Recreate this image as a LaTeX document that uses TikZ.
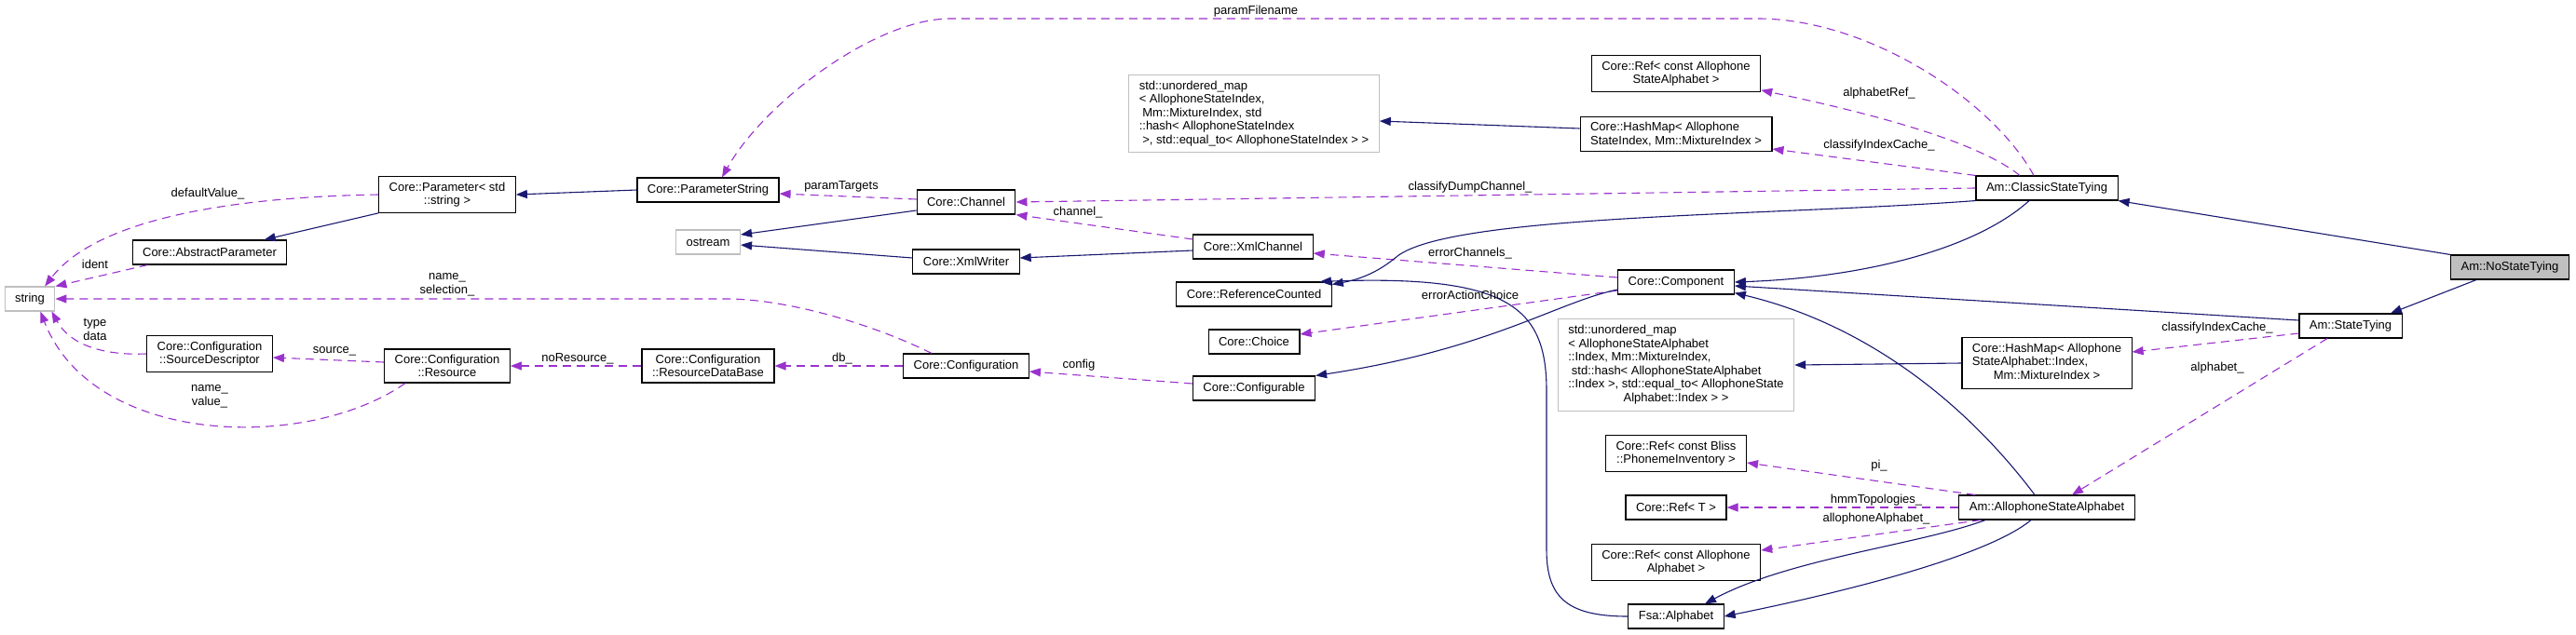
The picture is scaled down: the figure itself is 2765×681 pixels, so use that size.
\documentclass[tikz,border=0pt]{standalone}
\usepackage{fontspec}
\setmainfont{Liberation Sans}
\usetikzlibrary{arrows.meta}
\definecolor{inhcol}{HTML}{191970}
\definecolor{refcol}{HTML}{9A32CD}
\definecolor{extcol}{HTML}{BFBFBF}

\begin{document}
\begin{tikzpicture}[x=1pt, y=-1pt, font=\fontsize{13}{14.5}\selectfont,
  >={Triangle[length=12pt,width=9pt]},
  cls/.style={draw=black, line width=1.1pt, fill=white, inner xsep=11pt, inner ysep=6pt, minimum height=26pt},
  ext/.style={cls, draw=extcol},
  inherit/.style={->, draw=inhcol, line width=1.1pt},
  member/.style={->, draw=refcol, line width=1.1pt, dash pattern=on 9pt off 6pt},
  lbl/.style={inner sep=0pt, align=center}]
\path[use as bounding box, fill=white] (0,0) rectangle (2765,681);

\node[ext] (str) at (32,321) {string};
\node[cls, align=center] (param) at (480,209) {Core::Parameter< std\\::string >};
\node[cls] (absparam) at (225,271) {Core::AbstractParameter};
\node[cls, align=center] (srcdesc) at (225,380) {Core::Configuration\\::SourceDescriptor};
\node[cls, align=center] (resource) at (480,393) {Core::Configuration\\::Resource};
\node[cls, align=center] (resdb) at (760,393) {Core::Configuration\\::ResourceDataBase};
\node[cls] (paramstr) at (760,204) {Core::ParameterString};
\node[ext] (ostream) at (760,260) {ostream};
\node[cls] (channel) at (1037,217) {Core::Channel};
\node[cls] (xmlwriter) at (1037,281) {Core::XmlWriter};
\node[cls] (config) at (1037,393) {Core::Configuration};
\node[ext, align=left] (umapA) at (1346,122) {std::unordered\_map\\< AllophoneStateIndex,\\~Mm::MixtureIndex, std\\::hash< AllophoneStateIndex\\~>, std::equal\_to< AllophoneStateIndex > >};
\node[cls] (xmlchannel) at (1345,265) {Core::XmlChannel};
\node[cls] (refcnt) at (1346,316) {Core::ReferenceCounted};
\node[cls] (choice) at (1346,367) {Core::Choice};
\node[cls] (configurable) at (1346,417) {Core::Configurable};
\node[cls] (component) at (1799,303) {Core::Component};
\node[cls, align=center] (refasa) at (1799,79) {Core::Ref< const Allophone\\StateAlphabet >};
\node[cls, align=left] (hashA) at (1799,144) {Core::HashMap< Allophone\\StateIndex, Mm::MixtureIndex >};
\node[ext] (umapB) at (1799,392) {\begin{tabular}{@{}l@{}}std::unordered\_map\\< AllophoneStateAlphabet\\::Index, Mm::MixtureIndex,\\~std::hash< AllophoneStateAlphabet\\::Index >, std::equal\_to< AllophoneState\\\multicolumn{1}{@{}c@{}}{Alphabet::Index > >}\end{tabular}};
\node[cls, align=center] (refbliss) at (1799,487) {Core::Ref< const Bliss\\::PhonemeInventory >};
\node[cls] (reft) at (1799,545) {Core::Ref< T >};
\node[cls, align=center] (refalph) at (1799,604) {Core::Ref< const Allophone\\Alphabet >};
\node[cls] (fsa) at (1799,662) {Fsa::Alphabet};
\node[cls] (classic) at (2197,202) {Am::ClassicStateTying};
\node[cls, fill=extcol] (nostate) at (2694,287) {Am::NoStateTying};
\node[cls] (statetying) at (2523,350) {Am::StateTying};
\node[cls] (hashB) at (2197,390) {\begin{tabular}{@{}l@{}}Core::HashMap< Allophone\\StateAlphabet::Index,\\\multicolumn{1}{@{}c@{}}{Mm::MixtureIndex >}\end{tabular}};
\node[cls] (asa) at (2197,545) {Am::AllophoneStateAlphabet};

\draw[inherit] (paramstr.west) -- (param.east);
\draw[inherit] (param.south west) -- (absparam.13);
\draw[member] (param.west) .. controls (230,212) and (100,240) .. (str.40);
\draw[member] ([xshift=17pt]absparam.south west) -- (str.north east);
\draw[member] ([xshift=-37pt]config.north) .. controls (930,345) and (840,321) .. (780,321) -- (str.east);
\draw[member] (srcdesc.west) .. controls (110,382) and (75,370) .. (str.-30);
\draw[member] ([xshift=-45pt]resource.south) .. controls (330,485) and (100,480) .. (str.-50);
\draw[member] ([yshift=4pt]resource.west) -- ([yshift=-4pt]srcdesc.east);
\draw[member] (resdb.west) -- (resource.east);
\draw[member] (config.west) -- (resdb.east);
\draw[member] ([yshift=5pt]configurable.west) -- ([yshift=-6pt]config.east);
\draw[inherit] ([yshift=-9pt]channel.west) -- ([yshift=8pt]ostream.east);
\draw[inherit] ([yshift=4pt]xmlwriter.west) -- ([yshift=-3pt]ostream.east);
\draw[member] ([yshift=3pt]channel.west) -- ([yshift=-4pt]paramstr.east);
\draw[member] ([xshift=-14pt]classic.north) .. controls (2140,110) and (2010,22) .. (1890,20) -- (1020,20) .. controls (940,20) and (820,110) .. ([xshift=15pt]paramstr.north);
\draw[inherit] ([yshift=-4pt]xmlchannel.west) -- ([yshift=4pt]xmlwriter.east);
\draw[member] ([yshift=8pt]xmlchannel.west) -- (channel.south east);
\draw[member] (classic.west) -- (channel.east);
\draw[member] ([yshift=5pt]component.west) -- ([yshift=-7pt]xmlchannel.east);
\draw[member] ([yshift=-9pt]component.west) -- ([yshift=8pt]choice.east);
\draw[inherit] ([yshift=-8pt]component.west) .. controls (1670,325) and (1600,375) .. (configurable.north east);
\draw[inherit] (classic.south west) .. controls (1900,232) and (1560,230) .. (1500,275) .. controls (1480,292) and (1460,300) .. ([yshift=-3pt]refcnt.north east);
\draw[inherit] (fsa.west) .. controls (1680,662) and (1660,640) .. (1660,590) -- (1660,420) .. controls (1660,330) and (1620,295) .. ([xshift=-13pt]refcnt.north east);
\draw[inherit] ([xshift=-19pt]classic.south) .. controls (2120,268) and (2000,298) .. (component.east);
\draw[inherit] ([yshift=6pt]statetying.west) -- ([yshift=-4pt]component.east);
\draw[inherit] ([xshift=-13pt]asa.north) .. controls (2100,420) and (1990,345) .. ([yshift=2pt]component.south east);
\draw[inherit] ([yshift=6pt]hashA.west) -- ([yshift=-8pt]umapA.east);
\draw[member] ([xshift=-29pt]classic.north) .. controls (2120,150) and (2000,120) .. ([yshift=2pt]refasa.south east);
\draw[member] (classic.north west) -- ([yshift=-16pt]hashA.east);
\draw[inherit] (nostate.north west) -- (classic.south east);
\draw[inherit] ([xshift=-36pt]nostate.south) -- ([xshift=43pt]statetying.north);
\draw[member] ([yshift=-8pt]statetying.west) -- ([yshift=12pt]hashB.east);
\draw[member] ([xshift=-25pt]statetying.south) -- ([xshift=27pt]asa.north);
\draw[inherit] (hashB.west) -- (umapB.east);
\draw[member] ([xshift=-77pt]asa.north) -- ([yshift=-10pt]refbliss.east);
\draw[member] (asa.west) -- (reft.east);
\draw[member] ([xshift=-71pt]asa.south) -- ([yshift=13pt]refalph.east);
\draw[inherit] ([xshift=-66pt]asa.south) .. controls (2060,585) and (1920,600) .. ([xshift=31pt]fsa.north);
\draw[inherit] ([xshift=-17pt]asa.south) .. controls (2130,600) and (1960,640) .. (fsa.east);

\node[lbl] (lDefault) at (223,208) {defaultValue\_};
\node[lbl] (lIdent) at (102,284) {ident};
\node[lbl] (lNameSel) at (480,306) {name\_\\selection\_};
\node[lbl] (lTypeData) at (102,354) {type\\data};
\node[lbl] (lSource) at (359,377) {source\_};
\node[lbl] (lNameVal) at (225,426) {name\_\\value\_};
\node[lbl] (lNoRes) at (620,385) {noResource\_};
\node[lbl] (lDb) at (904,385) {db\_};
\node[lbl] (lConfig) at (1158,392) {config};
\node[lbl] (lTargets) at (903,200) {paramTargets};
\node[lbl] (lChannel) at (1157,228) {channel\_};
\node[lbl] (lDump) at (1578,201) {classifyDumpChannel\_};
\node[lbl] (lErrCh) at (1578,272) {errorChannels\_};
\node[lbl] (lErrAct) at (1578,317) {errorActionChoice};
\node[lbl] (lFilename) at (1348,12) {paramFilename};
\node[lbl] (lAlphRef) at (2017,100) {alphabetRef\_};
\node[lbl] (lCacheA) at (2017,156) {classifyIndexCache\_};
\node[lbl] (lCacheB) at (2380,352) {classifyIndexCache\_};
\node[lbl] (lAlph) at (2380,395) {alphabet\_};
\node[lbl] (lPi) at (2017,500) {pi\_};
\node[lbl] (lHmm) at (2014,537) {hmmTopologies\_};
\node[lbl] (lAllAlph) at (2014,557) {allophoneAlphabet\_};
\end{tikzpicture}
\end{document}
